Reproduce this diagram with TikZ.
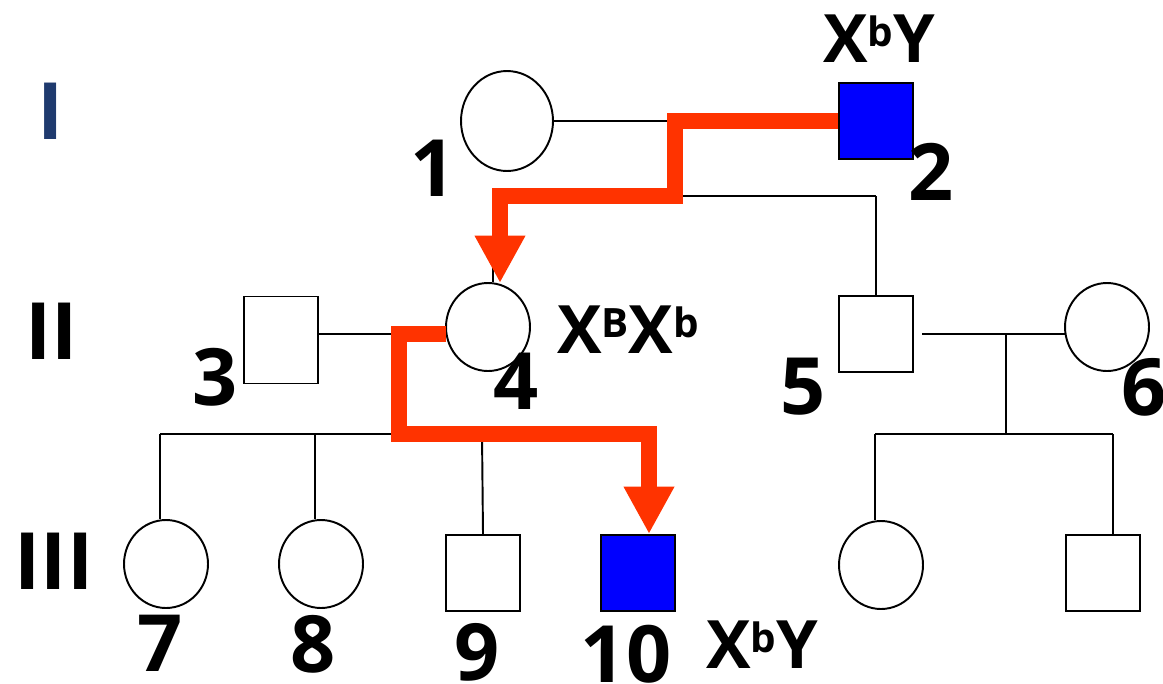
\documentclass[tikz,border=0pt]{standalone}
\usepackage{fontspec}
\setmainfont{Open Sans}
\usetikzlibrary{shapes.geometric,arrows.meta,calc}
\definecolor{inherit}{HTML}{FF3300}
\definecolor{sick}{HTML}{0000FF}
\definecolor{navy}{HTML}{1F3A6E}
\newcommand\allele[1]{\raisebox{0.24em}{\fontsize{23}{23}\selectfont #1}}
\tikzset{
  female/.style={ellipse,draw,line width=1.1pt,minimum width=1.68cm,minimum height=1.76cm,inner sep=0pt},
  male/.style={rectangle,draw,line width=1.1pt,minimum width=1.48cm,minimum height=1.52cm,inner sep=0pt},
  affected/.style={fill=sick},
  link/.style={line width=1.1pt},
  redline/.style={draw=inherit,line width=9pt,-{Triangle[length=27pt,width=27pt]}},
  num/.style={font=\fontsize{45}{45}\selectfont\bfseries,inner sep=0pt},
  geno/.style={font=\fontsize{38}{38}\selectfont\bfseries,inner sep=0pt}
}
\begin{document}
\begin{tikzpicture}[x=0.02cm,y=-0.02cm]
                \useasboundingbox (0,0) rectangle (1163,683);

                \node[num,text=navy] (gI) at (51,111) {I};
                \node[num] (gII) at (52,331) {II};
                \node[num] (gIII) at (54,561) {III};

                \node[female,minimum width=1.84cm,minimum height=2cm] (p1) at (507,121) {};
                \node[male,affected] (p2) at (876,121) {};
                \node[male,minimum height=1.74cm] (p3) at (281,340) {};
                \node[female] (p4) at (488,327) {};
                \node[male] (p5) at (876,334) {};
                \node[female] (p6) at (1107,327) {};
                \node[female] (p7) at (166,564) {};
                \node[female] (p8) at (321,564) {};
                \node[male] (p9) at (483,573) {};
                \node[male,affected] (p10) at (638,573) {};
                \node[female] (p11) at (881,565) {};
                \node[male] (p12) at (1103,573) {};

                \node[num] (l1) at (433,168) {1};
                \node[num] (l2) at (931,172) {2};
                \node[num] (l3) at (215,377) {3};
                \node[num] (l4) at (516,381) {4};
                \node[num] (l5) at (803,387) {5};
                \node[num] (l6) at (1144,387) {6};
                \node[num] (l7) at (160,643) {7};
                \node[num] (l8) at (313,644) {8};
                \node[num] (l9) at (477,652) {9};
                \node[num] (l10) at (626,654) {10};

                \node[geno] (x2) at (879,39) {X\allele{b}Y};
                \node[geno] (x4) at (628,330) {X\allele{B}X\allele{b}};
                \node[geno] (x10) at (762,645) {X\allele{b}Y};

                \coordinate (m12) at (675,121);
                \coordinate (s1) at (675,196);
                \coordinate (s1a) at (493,196);
                \coordinate (s1b) at (876,196);
                \coordinate (m34) at (446,334);
                \coordinate (d34) at (399,334);
                \coordinate (s2) at (399,434);
                \coordinate (c7) at (160,434);
                \coordinate (c8) at (315,434);
                \coordinate (c9) at (482,434);
                \coordinate (c10) at (649,434);
                \coordinate (m56) at (922,334);
                \coordinate (w6) at (1066,334);
                \coordinate (d56) at (1006,334);
                \coordinate (s3) at (1006,434);
                \coordinate (c11) at (875,434);
                \coordinate (c12) at (1113,434);
                \coordinate (t4) at (500,283);
                \coordinate (t10) at (649,534);

                \draw[link] (p1.east) -- (p2.west);
                \draw[link] (m12) -- (s1);
                \draw[link] (s1a) -- (s1b);
                \draw[link] (s1a) -- (s1a |- p4.north);
                \draw[link] (s1b) -- (p5.north);
                \draw[link] (p3.east |- m34) -- (m34);
                \draw[link] (d34) -- (s2);
                \draw[link] (c7) -- (c10);
                \draw[link] (c7) -- (c7 |- p7.north);
                \draw[link] (c8) -- (c8 |- p8.north);
                \draw[link] (c9) -- (p9.north);
                \draw[link] (m56) -- (w6);
                \draw[link] (d56) -- (s3);
                \draw[link] (c11) -- (c12);
                \draw[link] (c11) -- (c11 |- p11.north);
                \draw[link] (c12) -- (c12 |- p12.north);

                \draw[redline] (p2.west) -- (m12) -- (s1) -- (s1a -| t4) -- (t4);
                \draw[redline] (m34) -- (d34) -- (s2) -- (c10) -- (t10);
            \end{tikzpicture}
\end{document}
